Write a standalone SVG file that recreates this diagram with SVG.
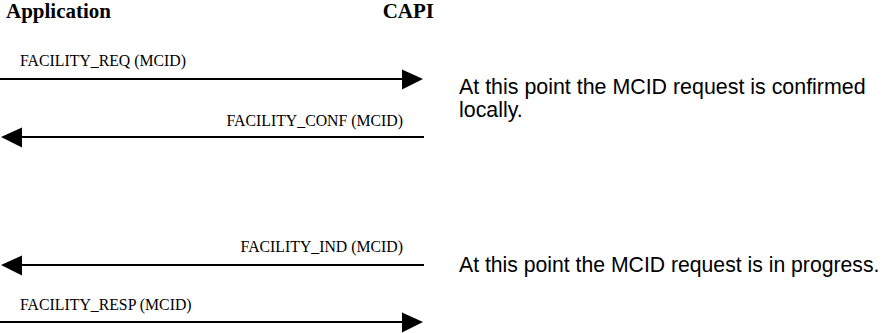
<svg xmlns="http://www.w3.org/2000/svg" width="884" height="333" viewBox="0 0 884 333">
<style>
.hdr{font-family:"Liberation Serif","Times New Roman",serif;font-weight:bold;font-size:21px;fill:#000}
.lbl{font-family:"Liberation Serif","Times New Roman",serif;font-size:15.8px;fill:#000}
.note{font-family:"Liberation Sans",Arial,sans-serif;font-size:21.4px;fill:#000}
.msg{stroke:#000;stroke-width:2;fill:none}
.head{fill:#000}
</style>
<rect width="884" height="333" fill="#fff"/>
<g id="application"><text class="hdr" x="6" y="18">Application</text></g>
<g id="capi"><text class="hdr" x="434" y="18" text-anchor="end">CAPI</text></g>
<g id="connectors">
  <g id="facility_req">
    <line class="msg" x1="0" y1="79" x2="403" y2="79"/>
    <polygon class="head" points="402,69.5 423,79 402,89.5"/>
  </g>
  <g id="facility_conf">
    <line class="msg" x1="424" y1="137" x2="21" y2="137"/>
    <polygon class="head" points="22,127.5 1,137 22,147.5"/>
  </g>
  <g id="facility_ind">
    <line class="msg" x1="424" y1="265" x2="21" y2="265"/>
    <polygon class="head" points="22,255.5 1,265 22,275.5"/>
  </g>
  <g id="facility_resp">
    <line class="msg" x1="0" y1="322" x2="403" y2="322"/>
    <polygon class="head" points="402,312.5 423,322 402,332.5"/>
  </g>
</g>
<g id="labels">
  <text class="lbl" x="20" y="66">FACILITY_REQ (MCID)</text>
  <text class="lbl" x="403" y="125.5" text-anchor="end">FACILITY_CONF (MCID)</text>
  <text class="lbl" x="403" y="252" text-anchor="end">FACILITY_IND (MCID)</text>
  <text class="lbl" x="20" y="310">FACILITY_RESP (MCID)</text>
</g>
<g id="note_confirmed">
  <text class="note" x="459" y="94">At this point the MCID request is confirmed</text>
  <text class="note" x="459" y="116.5">locally.</text>
</g>
<g id="note_progress">
  <text class="note" x="459" y="272" style="font-size:21.2px">At this point the MCID request is in progress.</text>
</g>
</svg>
